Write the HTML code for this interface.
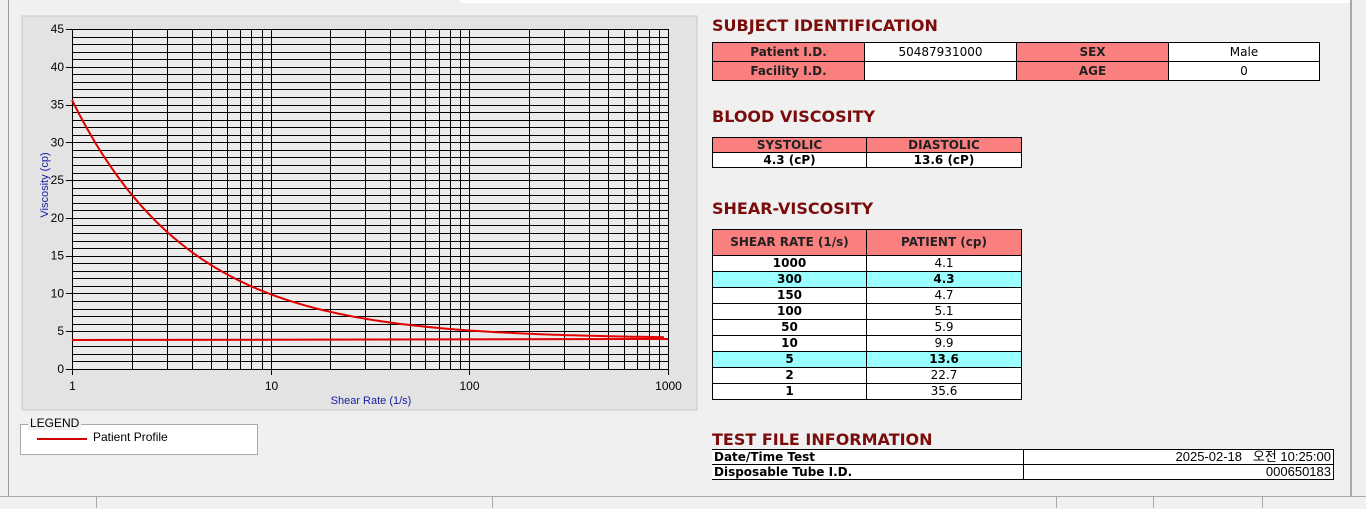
<!DOCTYPE html>
<html><head><meta charset="utf-8"><style>
body{margin:0;width:1366px;height:508px;background:#f0f0f0;position:relative;overflow:hidden;font-family:"Liberation Sans",sans-serif}
.a{position:absolute}
table{border-collapse:collapse;position:absolute;font-family:"DejaVu Sans","Liberation Sans",sans-serif;font-size:12px}
td{border:1px solid #000;padding:0;text-align:center;height:15px;line-height:15px}
.h{background:#fa8080;font-weight:bold;color:#222}
.w{background:#fff}
.c{background:#99ffff;font-weight:bold}
.t{color:#7a0c0c;font-weight:bold;font-size:16px;font-family:"DejaVu Sans","Liberation Sans",sans-serif}
.s td{height:18px;line-height:18px}
.f td{height:14px;line-height:14px}
</style></head><body>
<div class="a" style="left:0;top:0;width:8px;height:496px;border-right:1px solid #999"></div>
<div class="a" style="left:460px;top:0;width:890px;height:3px;background:#fff"></div>
<div class="a" style="left:1350px;top:0;width:2px;height:496px;background:#aaa"></div>
<svg class="a" style="left:0;top:0" width="700" height="420" id="ch"></svg>
<div class="a" style="left:20px;top:424px;width:236px;height:29px;border:1px solid #aaa;background:#fff"></div>
<div class="a" style="left:28px;top:416px;background:#f0f0f0;font-size:12px;padding:0 2px">LEGEND</div>
<div class="a" style="left:37px;top:438px;width:50px;height:2px;background:#d00000"></div>
<div class="a" style="left:93px;top:430px;font-size:12px">Patient Profile</div>

<div class="a t" style="left:712px;top:16px">SUBJECT IDENTIFICATION</div>
<table class="s" style="left:712px;top:42px;width:608px"><tr><td class="h" style="width:151px">Patient I.D.</td><td class="w" style="width:151px">50487931000</td><td class="h" style="width:151px">SEX</td><td class="w">Male</td></tr>
<tr><td class="h">Facility I.D.</td><td class="w"></td><td class="h">AGE</td><td class="w">0</td></tr></table>

<div class="a t" style="left:712px;top:107px">BLOOD VISCOSITY</div>
<table style="left:712px;top:137px;width:310px"><tr><td class="h" style="width:153px;height:14px;line-height:14px">SYSTOLIC</td><td class="h" style="height:14px;line-height:14px">DIASTOLIC</td></tr>
<tr><td class="w" style="font-weight:bold;height:14px;line-height:14px">4.3 (cP)</td><td class="w" style="font-weight:bold;height:14px;line-height:14px">13.6 (cP)</td></tr></table>

<div class="a t" style="left:712px;top:199px">SHEAR-VISCOSITY</div>
<table style="left:712px;top:229px;width:310px">
<tr><td class="h" style="width:153px;height:25px">SHEAR RATE (1/s)</td><td class="h">PATIENT (cp)</td></tr>
<tr><td class="w" style="font-weight:bold">1000</td><td class="w">4.1</td></tr>
<tr><td class="c">300</td><td class="c">4.3</td></tr>
<tr><td class="w" style="font-weight:bold">150</td><td class="w">4.7</td></tr>
<tr><td class="w" style="font-weight:bold">100</td><td class="w">5.1</td></tr>
<tr><td class="w" style="font-weight:bold">50</td><td class="w">5.9</td></tr>
<tr><td class="w" style="font-weight:bold">10</td><td class="w">9.9</td></tr>
<tr><td class="c">5</td><td class="c">13.6</td></tr>
<tr><td class="w" style="font-weight:bold">2</td><td class="w">22.7</td></tr>
<tr><td class="w" style="font-weight:bold">1</td><td class="w">35.6</td></tr></table>

<div class="a t" style="left:712px;top:430px">TEST FILE INFORMATION</div>
<table class="f" style="left:712px;top:449px;width:622px;font-size:12px"><tr><td class="w" style="width:309px;text-align:left;font-weight:bold;padding-left:2px;border-left:none">Date/Time Test</td><td class="w" style="text-align:right;padding-right:2px;font-family:'Liberation Sans','Noto Sans CJK KR',sans-serif;font-size:13px">2025-02-18 &nbsp; 오전 10:25:00</td></tr>
<tr><td class="w" style="text-align:left;font-weight:bold;padding-left:2px;border-left:none">Disposable Tube I.D.</td><td class="w" style="text-align:right;padding-right:2px;font-size:13px;font-family:'Liberation Sans',sans-serif">000650183</td></tr></table>

<div class="a" style="left:0;top:496px;width:1366px;height:12px;background:#f0f0f0;border-top:1px solid #aaa"></div>
<div class="a" style="left:96px;top:497px;width:1px;height:11px;background:#aaa"></div>
<div class="a" style="left:492px;top:497px;width:1px;height:11px;background:#aaa"></div>
<div class="a" style="left:1056px;top:497px;width:1px;height:11px;background:#aaa"></div>
<div class="a" style="left:1153px;top:497px;width:1px;height:11px;background:#aaa"></div>
<div class="a" style="left:1262px;top:497px;width:1px;height:11px;background:#aaa"></div>
<script>
var s='',X0=72,D=198.67,Y0=369,K=340/45;
function px(v){return X0+Math.log10(v)*D}function py(v){return Y0-v*K}
function r(v){return Math.round(v)+0.5}
s+='<rect x="22" y="16" width="675" height="394" fill="#e3e3e3" stroke="#c8c8c8"/>';
s+='<rect x="72" y="29" width="596" height="340" fill="#ebebeb"/>';
for(var i=0;i<=45;i++){var y=r(py(i));s+='<line x1="72" x2="668" y1="'+y+'" y2="'+y+'" stroke="#000" stroke-width="1"/>';}
for(var d=1;d<=100;d*=10)for(var m=1;m<=10;m++){var x=r(px(d*m));s+='<line x1="'+x+'" x2="'+x+'" y1="29" y2="369" stroke="#000" stroke-width="1"/>';}
for(var i=0;i<=45;i+=5){s+='<line x1="66" x2="72" y1="'+r(py(i))+'" y2="'+r(py(i))+'" stroke="#000"/><text x="64" y="'+(py(i)+4)+'" font-size="12" text-anchor="end" font-family="Liberation Sans">'+i+'</text>';}
[1,10,100,1000].forEach(function(v){var x=r(px(v));s+='<line x1="'+x+'" x2="'+x+'" y1="369" y2="375" stroke="#000"/><text x="'+x+'" y="390" font-size="12" text-anchor="middle" font-family="Liberation Sans">'+v+'</text>';});
s+='<text x="371" y="404" font-size="11" fill="#1a1aa0" text-anchor="middle" font-family="Liberation Sans">Shear Rate (1/s)</text>';
s+='<text transform="translate(48,185) rotate(-90)" font-size="11" fill="#1a1aa0" text-anchor="middle" font-family="Liberation Sans">Viscosity (cp)</text>';
var p=[];for(var t=0;t<=3;t+=0.02){var v=Math.pow(10,t);p.push(px(v).toFixed(1)+','+py(4+31.6*Math.pow(v,-0.729)).toFixed(1));}
s+='<polyline points="'+p.join(' ')+'" fill="none" stroke="#e00000" stroke-width="2"/>';
s+='<line x1="72" x2="668" y1="340" y2="339" stroke="#e00000" stroke-width="2"/>';
document.getElementById('ch').innerHTML=s;
</script>
</body></html>
